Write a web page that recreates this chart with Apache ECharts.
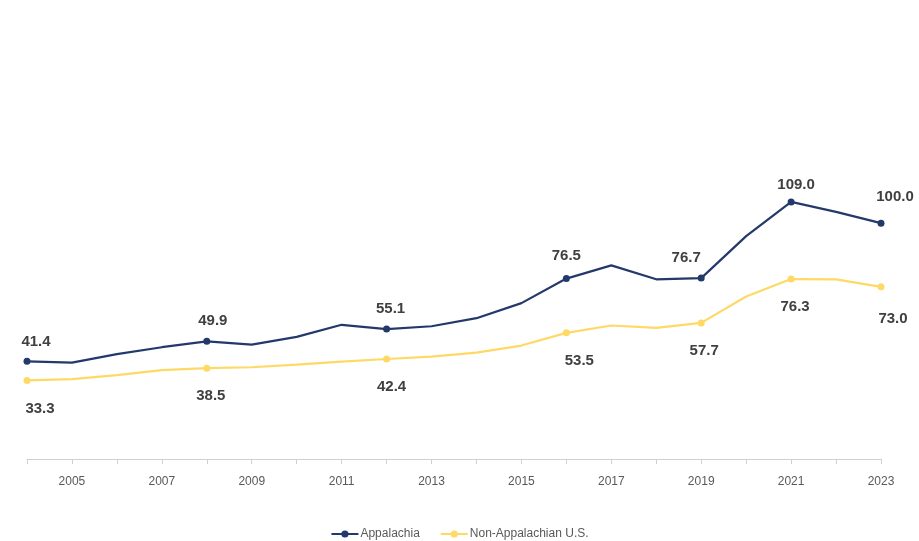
<!DOCTYPE html>
<html>
<head>
<meta charset="utf-8">
<title>Appalachia vs Non-Appalachian U.S.</title>
<script src="https://cdn.jsdelivr.net/npm/echarts@6/dist/echarts.min.js"></script>
<style>
  html, body { margin: 0; padding: 0; background: #ffffff; }
  #chart { width: 919px; height: 541px; }
</style>
</head>
<body>
<div id="chart"></div>
<script>
// Years on the category axis
const years = ['2004','2005','2006','2007','2008','2009','2010','2011','2012','2013',
               '2014','2015','2016','2017','2018','2019','2020','2021','2022','2023'];

// Series values
const appalachia = [41.4, 40.9, 44.5, 47.4, 49.9, 48.5, 51.8, 56.9, 55.1, 56.3,
                    59.7, 66.1, 76.5, 82.1, 76.2, 76.7, 94.5, 109.0, 104.8, 100.0];
const nonAppalachian = [33.3, 33.9, 35.6, 37.7, 38.5, 38.9, 40.0, 41.3, 42.4, 43.4,
                        45.1, 48.1, 53.5, 56.6, 55.6, 57.7, 68.9, 76.3, 76.2, 73.0];

// Years that carry a marker and a value label
const labelledIdx = [0, 4, 8, 12, 15, 17, 19];

// Small nudges for individual value labels, keyed by year index: [dx, dy]
const appLabelNudge = { 0: [9, 0], 4: [6, 0], 8: [4, 0], 12: [0, -3], 15: [-15, 0], 17: [5, 3], 19: [14, -6] };
const nonLabelNudge = { 0: [13, 0], 4: [4, 0], 8: [5, 0], 12: [13, 0], 15: [3, 0], 17: [4, 0], 19: [12, 4] };

const NAVY = '#24396B';
const GOLD = '#FFD966';
const FONT = '"Liberation Sans", Arial, sans-serif';

function buildData(values, pos, dist, nudge) {
  return values.map((v, i) => {
    const on = labelledIdx.includes(i);
    return {
      value: v,
      symbol: on ? 'circle' : 'none',
      symbolSize: 7,
      label: {
        show: on,
        position: pos,
        distance: dist,
        offset: nudge[i] || [0, 0],
        formatter: (p) => p.value.toFixed(1)
      }
    };
  });
}

const chart = echarts.init(document.getElementById('chart'), null, { renderer: 'canvas' });

const valueLabel = { color: '#404040', fontSize: 15, fontWeight: 'bold', fontFamily: FONT };

chart.setOption({
  animation: false,
  backgroundColor: '#ffffff',
  grid: { left: 27, right: 38, top: 176, bottom: 82, containLabel: false },
  legend: {
    top: 523,
    left: 'center',
    itemWidth: 27,
    itemHeight: 9,
    itemGap: 20,
    textStyle: { color: '#595959', fontSize: 12, fontFamily: FONT, padding: [0, 0, 0, -3] },
    data: ['Appalachia', 'Non-Appalachian U.S.']
  },
  xAxis: {
    type: 'category',
    data: years,
    boundaryGap: false,
    axisLine: { lineStyle: { color: '#D0D0D0', width: 1 } },
    axisTick: { show: true, interval: 0, length: 5, lineStyle: { color: '#D0D0D0' } },
    axisLabel: {
      interval: (index) => index % 2 === 1,
      color: '#595959',
      fontSize: 12,
      fontFamily: FONT,
      margin: 17
    }
  },
  yAxis: {
    type: 'value',
    min: 0,
    max: 120,
    show: false,
    splitLine: { show: false }
  },
  series: [
    {
      name: 'Appalachia',
      type: 'line',
      data: buildData(appalachia, 'top', 9, appLabelNudge),
      showAllSymbol: true,
      symbol: 'circle',
      symbolSize: 7,
      lineStyle: { color: NAVY, width: 2.2 },
      itemStyle: { color: NAVY },
      label: valueLabel,
      z: 3
    },
    {
      name: 'Non-Appalachian U.S.',
      type: 'line',
      data: buildData(nonAppalachian, 'bottom', 17, nonLabelNudge),
      showAllSymbol: true,
      symbol: 'circle',
      symbolSize: 7,
      lineStyle: { color: GOLD, width: 2.2 },
      itemStyle: { color: GOLD },
      label: valueLabel,
      z: 2
    }
  ]
});
</script>
</body>
</html>
